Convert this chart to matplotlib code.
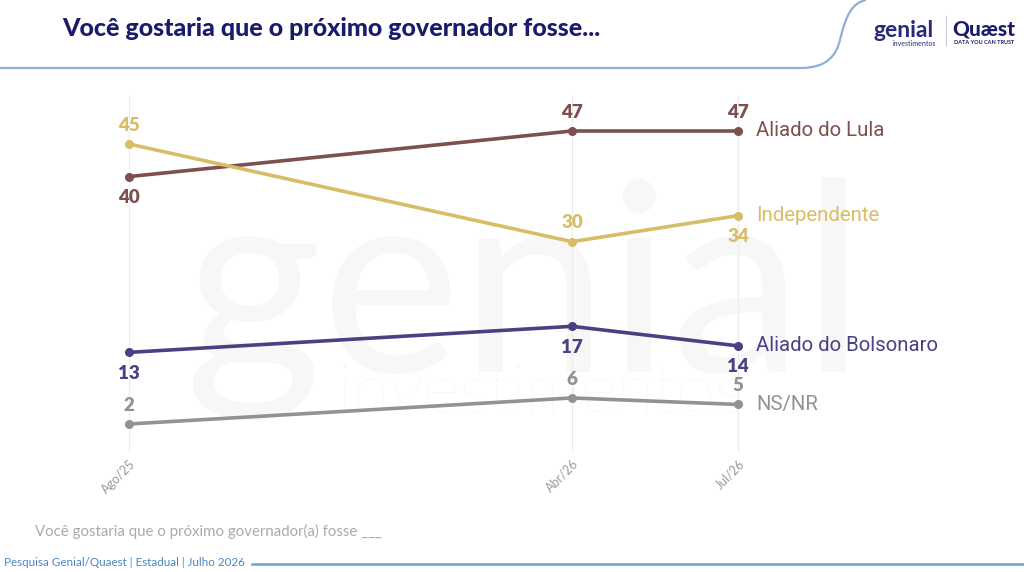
import numpy as np
import matplotlib
matplotlib.use("Agg")
import matplotlib.pyplot as plt
from matplotlib.path import Path
from matplotlib.patches import PathPatch

# months since Ago/25
months = [0, 8, 11]
tick_labels = ["Ago/25", "Abr/26", "Jul/26"]

series = ["Aliado do Lula", "Independente", "Aliado do Bolsonaro", "NS/NR"]
lula = [40, 47, 47]
independente = [45, 30, 34]
bolsonaro = [13, 17, 14]
nsnr = [2, 6, 5]

colors = ["#7d4f4f", "#d9bd66", "#474283", "#929292"]
# +1 label above, -1 label below
positions = [[-1, 1, 1], [1, 1, -1], [-1, -1, -1], [1, 1, 1]]

W, H = 1024, 572
fig = plt.figure(figsize=(W / 100, H / 100), dpi=100)
fig.patch.set_facecolor("white")

# overlay in pixel coords for the decorations
bg = fig.add_axes([0, 0, 1, 1], zorder=0)
bg.set_xlim(0, W)
bg.set_ylim(H, 0)
bg.axis("off")

# watermark
bg.text(185, 372, "genial", fontsize=190, color="#f7f7f7", family="Lato",
        va="baseline", ha="left")
bg.text(338, 412, "investimentos", fontsize=50, color="#f7f7f7", family="Lato",
        fontweight="light", va="baseline", ha="left")

# header line with curve
verts = [(0, 68), (800, 68), (828, 68), (836, 55), (840, 40),
         (846, 15), (852, 3), (866, 0)]
codes = [Path.MOVETO, Path.LINETO, Path.CURVE4, Path.CURVE4, Path.CURVE4,
         Path.CURVE4, Path.CURVE4, Path.CURVE4]
bg.add_patch(PathPatch(Path(verts, codes), fill=False, lw=1.6, ec="#8eb0d8"))

bg.text(62, 28, "Você gostaria que o próximo governador fosse...", fontsize=18,
        fontweight="black", color="#1b1b6b", family="Lato", va="center", ha="left")

# logos
bg.text(874, 37, "genial", fontsize=16.5, color="#2a2a7a", family="Lato",
        fontweight="bold", va="baseline", ha="left")
bg.text(893, 44, "investimentos", fontsize=5, color="#2a2a7a", family="Lato",
        va="center", ha="left")
bg.plot([946, 946], [16, 45], color="#c8c8d8", lw=0.8)
bg.text(952, 35, "Quæst", fontsize=15, color="#1b1b6b", family="Lato",
        fontweight="black", va="baseline", ha="left")
bg.text(954, 43, "DATA YOU CAN TRUST", fontsize=4, color="#1b1b6b", family="Lato",
        fontweight="bold", va="center", ha="left")

# note and footer
bg.text(35, 531, "Você gostaria que o próximo governador(a) fosse ___", fontsize=10.8,
        color="#aaaaaa", family="Lato", va="center", ha="left")
bg.text(4, 563, "Pesquisa Genial/Quaest | Estadual | Julho 2026", fontsize=8.4,
        color="#4a86c5", family="Lato", va="center", ha="left")
bg.plot([252, W], [564, 564], color="#6c9fd2", lw=1.8)

# main chart axes: pixel frame x 80..780, y 95..452
x0, x1, y0, y1 = 80, 780, 95, 452
ax = fig.add_axes([x0 / W, 1 - y1 / H, (x1 - x0) / W, (y1 - y0) / H], zorder=1)
ax.patch.set_alpha(0)
px_per_month = (738 - 129) / 11
px_per_pt = (424 - 131) / 45
ax.set_xlim((x0 - 129) / px_per_month, (x1 - 129) / px_per_month)
ax.set_ylim(47 - (y1 - 131) / px_per_pt, 47 + (131 - y0) / px_per_pt)
for s in ax.spines.values():
    s.set_visible(False)
ax.set_yticks([])
ax.set_xticks(months)
ax.set_xticklabels(tick_labels, rotation=45, ha="right", va="top",
                   rotation_mode="anchor", fontsize=9, color="#9a9a9a",
                   family="Lato")
ax.tick_params(axis="x", length=0, pad=4)
ax.grid(axis="x", color="#ececec", lw=0.8)

data = [lula, independente, bolsonaro, nsnr]
for name, vals, col, pos in zip(series, data, colors, positions):
    ax.plot(months, vals, color=col, lw=2.6, marker="o", ms=5.5, zorder=3)
    for m, v, p in zip(months, vals, pos):
        off = 13.5 if p > 0 else -15
        ax.annotate(str(v), (m, v), xytext=(0, off), textcoords="offset points",
                    ha="center", va="center", fontsize=13.5, fontweight="heavy",
                    color=col, family="Lato")
    ax.annotate(name, (months[-1], vals[-1]), xytext=(13, 0),
                textcoords="offset points", ha="left", va="center",
                fontsize=14.7, color=col, family="Roboto")

fig.savefig("out.png", dpi=100)
